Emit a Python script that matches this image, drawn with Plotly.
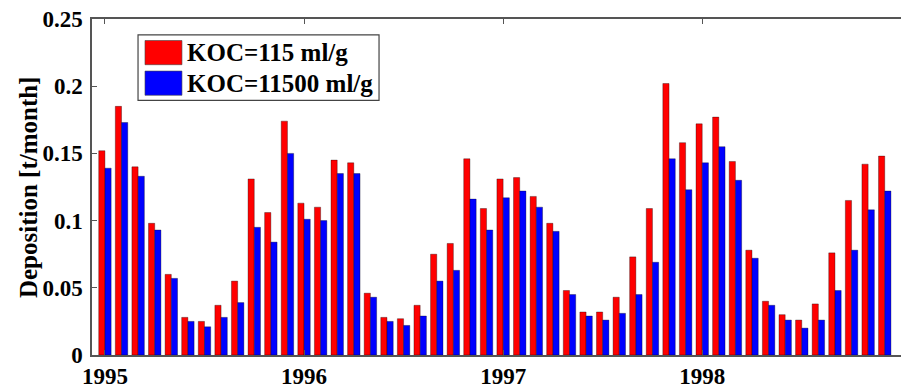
import plotly.graph_objects as go

# Monthly deposition, Jan 1995 .. Dec 1998
months = list(range(48))
koc_low = [0.152, 0.185, 0.140, 0.098, 0.060, 0.028, 0.025, 0.037, 0.055, 0.131, 0.106, 0.174,
           0.113, 0.110, 0.145, 0.143, 0.046, 0.028, 0.027, 0.037, 0.075, 0.083, 0.146, 0.109,
           0.131, 0.132, 0.118, 0.098, 0.048, 0.032, 0.032, 0.043, 0.073, 0.109, 0.202, 0.158,
           0.172, 0.177, 0.144, 0.078, 0.040, 0.030, 0.026, 0.038, 0.076, 0.115, 0.142, 0.148]
koc_high = [0.139, 0.173, 0.133, 0.093, 0.057, 0.025, 0.021, 0.028, 0.039, 0.095, 0.084, 0.150,
            0.101, 0.100, 0.135, 0.135, 0.043, 0.025, 0.022, 0.029, 0.055, 0.063, 0.116, 0.093,
            0.117, 0.122, 0.110, 0.092, 0.045, 0.029, 0.026, 0.031, 0.045, 0.069, 0.146, 0.123,
            0.143, 0.155, 0.130, 0.072, 0.037, 0.026, 0.020, 0.026, 0.048, 0.078, 0.108, 0.122]
series_names = ["KOC=115 ml/g", "KOC=11500 ml/g"]
year_ticks = [0, 12, 24, 36]
year_labels = ["1995", "1996", "1997", "1998"]
y_ticks = [0, 0.05, 0.1, 0.15, 0.2, 0.25]
y_labels = ["0", "0.05", "0.1", "0.15", "0.2", "0.25"]

RED = "#ff0000"
BLUE = "#0000ff"
FONT = "Liberation Serif"
AXIS = "#555555"

fig = go.Figure()
for vals, col, name in [(koc_low, RED, series_names[0]), (koc_high, BLUE, series_names[1])]:
    fig.add_trace(go.Bar(
        x=months, y=vals, name=name,
        marker=dict(color=col, line=dict(color="rgba(0,0,0,0.55)", width=0.6)),
        showlegend=False,
    ))

fig.update_layout(
    width=901, height=389,
    margin=dict(l=92, r=0, t=19, b=31),
    paper_bgcolor="white", plot_bgcolor="white",
    barmode="group", bargap=0.25, bargroupgap=0,
    font=dict(family=FONT, size=22, color="black", weight="bold"),
)
fig.update_xaxes(
    range=[-0.78, 47.98],
    tickvals=year_ticks, ticktext=year_labels,
    ticks="inside", ticklen=5, tickcolor=AXIS, tickwidth=1,
    showline=True, linecolor=AXIS, linewidth=1.5, mirror="ticks",
    showgrid=False, zeroline=False,
    tickfont=dict(family=FONT, size=23, color="black", weight="bold"),
)
fig.update_yaxes(
    range=[0, 0.25],
    tickvals=y_ticks, ticktext=y_labels,
    ticks="inside", ticklen=5, tickcolor=AXIS, tickwidth=1,
    showline=True, linecolor=AXIS, linewidth=1.5, mirror=False,
    showgrid=False, zeroline=False,
    ticklabelstandoff=3,
    tickfont=dict(family=FONT, size=23, color="black", weight="bold"),
)

# y-axis title
fig.add_annotation(
    text="Deposition [t/month]", xref="paper", yref="paper",
    x=-0.079, y=0.5, xanchor="center", yanchor="middle", textangle=-90,
    showarrow=False, font=dict(family=FONT, size=25, color="black", weight="bold"),
)

# legend box with colour patches
fig.add_shape(type="rect", xref="paper", yref="paper",
              x0=0.0569, x1=0.3548, y0=0.758, y1=0.953,
              line=dict(color="#444444", width=1.2), fillcolor="white", layer="above")
patches = [(RED, 0.936, 0.864, 0.899), (BLUE, 0.845, 0.773, 0.808)]
for (col, ytop, ybot, ytxt), name in zip(patches, series_names):
    fig.add_shape(type="rect", xref="paper", yref="paper",
                  x0=0.0655, x1=0.1112, y0=ybot, y1=ytop,
                  line=dict(color="#444444", width=0.6), fillcolor=col, layer="above")
    fig.add_annotation(text=name, xref="paper", yref="paper", x=0.1145, y=ytxt,
                       xanchor="left", yanchor="middle", showarrow=False,
                       font=dict(family=FONT, size=25, color="black", weight="bold"))

fig.write_html("out.html")
